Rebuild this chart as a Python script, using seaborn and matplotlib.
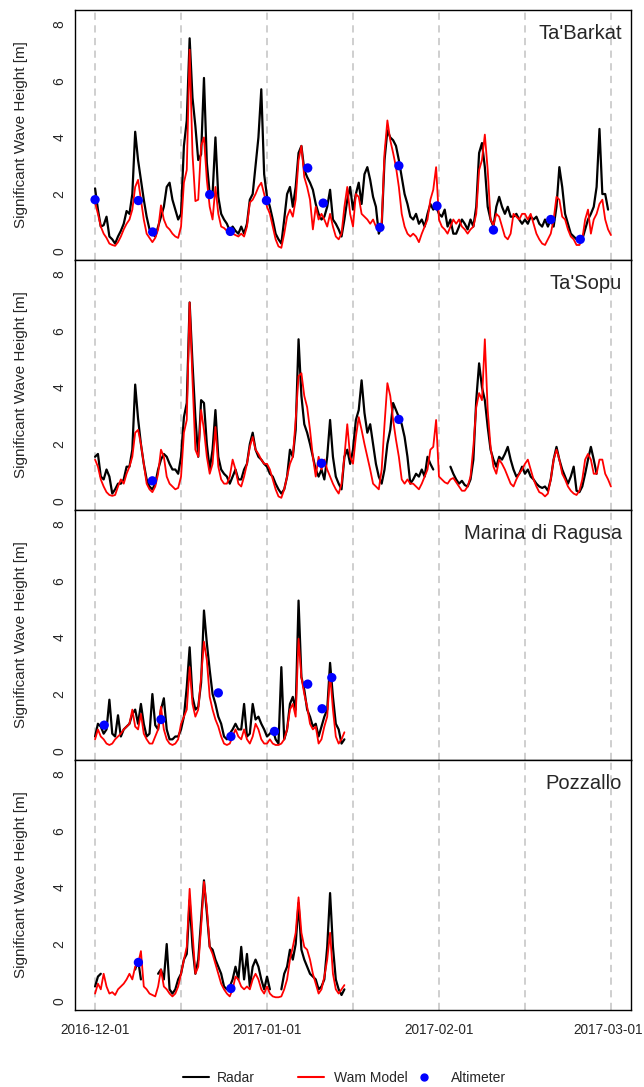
import numpy as np
import pandas as pd
import matplotlib
matplotlib.use("Agg")
import matplotlib.pyplot as plt
from matplotlib.lines import Line2D
import matplotlib.transforms as mtransforms
import seaborn as sns

# ---------------- data ----------------
START = pd.Timestamp("2016-12-01")
STEP_DAYS = 0.5  # 12-hourly samples

stations = ["Ta'Barkat", "Ta'Sopu", "Marina di Ragusa", "Pozzallo"]

nan = np.nan
radar_tabarkat = [
    2.2, 1.45, 0.85, 0.9, 1.2, 0.5, 0.4, 0.25, 0.5, 0.7,
    0.95, 1.4, 1.3, 2.0, 4.2, 3.2, 2.5, 1.8, 1.2, 0.75,
    0.6, 0.5, 0.85, 1.2, 1.55, 2.25, 2.4, 1.8, 1.45, 1.1,
    1.3, 3.7, 4.6, 7.5, 5.4, 4.4, 3.2, 3.4, 6.1, 3.1,
    2.0, 2.0, 4.0, 1.9, 1.3, 1.1, 0.95, 0.7, 0.85, 0.7,
    0.6, 0.85, 0.6, 0.95, 1.8, 2.0, 3.0, 4.0, 5.7, 2.7,
    1.9, 1.55, 1.1, 0.6, 0.4, 0.25, 1.1, 2.0, 2.25, 1.55,
    2.25, 3.45, 3.7, 2.85, 2.6, 2.4, 2.15, 1.65, 1.3, 1.1,
    1.2, 1.55, 2.15, 1.1, 0.95, 0.75, 0.5, 1.1, 1.8, 2.25,
    1.45, 2.0, 2.4, 1.65, 2.7, 2.95, 2.5, 1.9, 1.55, 0.6,
    0.85, 3.2, 4.25, 4.0, 3.9, 3.7, 3.2, 2.6, 2.0, 1.65,
    1.2, 1.1, 1.3, 0.95, 1.1, 0.85, 1.3, 1.65, 1.45, 1.55,
    1.3, 1.2, 1.45, 0.85, 1.1, 0.6, 0.6, 0.85, 1.1, 0.95,
    0.75, 1.1, 0.85, 1.55, 3.45, 3.8, 2.95, 1.55, 1.1, 0.85,
    1.55, 1.9, 1.55, 1.3, 1.55, 1.2, 1.2, 1.3, 1.1, 0.95,
    1.1, 0.95, 1.2, 1.1, 1.2, 0.95, 0.85, 1.1, 0.85, 1.1,
    0.85, 1.55, 2.95, 2.25, 1.3, 0.95, 0.6, 0.5, 0.4, 0.3,
    0.4, 0.75, 1.1, 1.3, 1.55, 2.25, 4.3, 2.0, 2.0, 1.45,
    nan,
]
wam_tabarkat = [
    1.7, 1.3, 0.85, 0.6, 0.45, 0.25, 0.2, 0.17, 0.3, 0.5,
    0.75, 0.95, 1.1, 1.45, 2.25, 2.5, 1.8, 1.1, 0.6, 0.45,
    0.3, 0.45, 0.75, 1.6, 1.1, 0.85, 0.75, 0.6, 0.5, 0.45,
    0.85, 2.4, 2.85, 7.1, 3.4, 1.75, 1.8, 3.7, 4.0, 2.5,
    1.55, 1.1, 2.25, 1.3, 0.85, 0.8, 0.7, 0.55, 0.6, 0.55,
    0.5, 0.6, 0.5, 0.85, 1.7, 1.8, 2.0, 2.25, 2.4, 2.0,
    1.55, 1.3, 0.85, 0.4, 0.15, 0.1, 0.6, 1.2, 1.45, 1.2,
    1.8, 3.2, 3.7, 2.6, 2.25, 1.8, 0.75, 1.55, 1.1, 1.3,
    1.1, 0.85, 1.3, 0.85, 0.5, 0.4, 0.6, 1.55, 2.25, 1.3,
    0.85, 2.0, 1.9, 1.3, 1.2, 1.1, 0.95, 1.1, 0.85, 0.75,
    0.95, 3.45, 4.6, 3.9, 3.45, 2.95, 2.25, 1.3, 0.85, 0.6,
    0.5, 0.6, 0.5, 0.3, 0.6, 0.85, 1.1, 1.8, 2.15, 2.95,
    1.1, 0.85, 0.75, 0.6, 0.85, 1.1, 0.95, 1.1, 0.85, 0.75,
    0.6, 0.75, 0.85, 1.3, 2.85, 3.2, 4.1, 2.85, 1.1, 0.9,
    1.3, 1.2, 0.85, 0.5, 0.4, 0.6, 1.3, 1.2, 1.1, 1.3,
    1.3, 1.1, 1.3, 0.95, 0.6, 0.4, 0.25, 0.2, 0.4, 0.6,
    1.1, 1.9, 1.8, 1.2, 1.1, 0.75, 0.5, 0.4, 0.2, 0.2,
    0.4, 1.1, 1.45, 0.6, 1.1, 1.3, 1.65, 1.8, 1.1, 0.75,
    0.55,
]
alt_days_tabarkat = [0.0, 7.55, 10.05, 20.0, 23.6, 29.9, 37.1, 39.8, 49.7, 53.0, 59.65, 69.5, 79.5, 84.65]
alt_hs_tabarkat = [1.8, 1.77, 0.66, 1.98, 0.68, 1.77, 2.92, 1.68, 0.82, 3.0, 1.58, 0.73, 1.1, 0.4]

radar_tasopu = [
    1.55, 1.65, 0.85, 0.75, 1.1, 0.85, 0.25, 0.4, 0.6, 0.6,
    0.75, 1.2, 1.2, 1.8, 4.1, 2.9, 2.0, 1.3, 0.75, 0.5,
    0.4, 0.6, 1.1, 1.45, 1.65, 1.55, 1.3, 1.1, 1.1, 0.95,
    1.55, 2.95, 3.45, 7.0, 4.85, 2.95, 1.55, 3.55, 3.45, 2.0,
    1.1, 1.8, 3.2, 1.55, 1.1, 0.95, 0.85, 0.6, 0.85, 1.1,
    0.75, 0.75, 1.1, 1.3, 2.0, 2.4, 1.8, 1.55, 1.45, 1.3,
    1.2, 0.95, 0.85, 0.6, 0.4, 0.25, 0.4, 0.85, 1.8, 1.55,
    2.5, 5.7, 3.7, 2.7, 2.4, 2.0, 1.55, 1.1, 0.85, 1.1,
    0.75, 1.55, 2.85, 1.55, 0.85, 0.6, 0.4, 1.55, 1.8, 1.3,
    1.8, 2.85, 3.2, 4.25, 3.1, 2.4, 2.7, 2.0, 1.3, 0.85,
    0.6, 1.1, 2.0, 2.5, 3.45, 3.2, 2.95, 2.7, 2.25, 1.55,
    0.6, 0.75, 0.95, 0.85, 1.1, 0.85, 1.55, 1.3, 1.1, nan,
    nan, nan, nan, nan, 1.2, 0.95, 0.75, 0.6, 0.7, 0.55,
    0.5, 0.75, 1.45, 3.55, 4.85, 4.0, 3.55, 2.6, 1.8, 1.45,
    1.2, 1.55, 1.45, 1.65, 1.9, 1.45, 1.1, 0.85, 0.95, 1.2,
    0.95, 1.1, 0.85, 0.75, 0.6, 0.5, 0.45, 0.5, 0.35, 0.75,
    1.45, 1.9, 1.45, 1.1, 0.85, 0.6, 0.85, 1.2, 0.35, 0.3,
    0.5, 0.95, 1.45, 1.9, 1.45, 0.95, nan, nan, nan, nan,
    nan,
]
wam_tasopu = [
    1.45, 1.2, 0.75, 0.5, 0.3, 0.2, 0.17, 0.2, 0.5, 0.75,
    0.6, 0.95, 1.2, 1.55, 2.4, 2.5, 2.0, 1.3, 0.6, 0.4,
    0.3, 0.5, 0.95, 1.8, 1.55, 0.85, 0.6, 0.5, 0.4, 0.45,
    0.85, 2.4, 2.85, 7.0, 4.25, 1.8, 1.55, 3.2, 2.5, 1.55,
    0.95, 1.3, 2.6, 1.2, 0.75, 0.6, 0.6, 0.85, 1.45, 1.1,
    0.6, 0.5, 0.85, 1.3, 1.9, 2.25, 1.8, 1.65, 1.45, 1.3,
    1.3, 1.1, 0.75, 0.4, 0.15, 0.1, 0.4, 0.85, 1.3, 1.55,
    2.85, 4.4, 4.5, 3.7, 3.3, 2.5, 1.55, 0.85, 1.55, 1.1,
    1.45, 1.1, 0.85, 0.6, 0.4, 0.25, 0.6, 1.55, 2.7, 1.55,
    1.3, 2.25, 2.95, 2.5, 2.0, 1.55, 1.1, 0.6, 0.5, 0.4,
    1.1, 2.7, 4.15, 3.7, 2.85, 2.15, 1.55, 0.75, 0.6, 0.75,
    0.6, 0.6, 0.5, 0.4, 0.6, 0.85, 1.1, 1.8, 1.9, 2.85,
    0.85, 0.75, 0.65, 0.6, 0.75, 0.8, 0.65, 0.5, 0.35, 0.35,
    0.5, 0.85, 1.9, 3.3, 3.8, 3.55, 5.7, 3.2, 1.9, 1.2,
    0.95, 1.45, 1.3, 1.1, 0.85, 0.6, 0.5, 0.75, 0.95, 1.1,
    1.3, 1.45, 1.1, 0.75, 0.5, 0.3, 0.25, 0.15, 0.25, 0.75,
    1.45, 1.8, 1.45, 0.95, 0.75, 0.5, 0.35, 0.25, 0.2, 0.35,
    0.75, 1.45, 1.65, 1.45, 0.95, 0.95, 1.45, 1.45, 0.95, 0.75,
    0.5,
]
alt_days_tasopu = [10.0, 39.5, 53.0]
alt_hs_tasopu = [0.7, 1.32, 2.87]

radar_ragusa = [
    0.5, 0.95, 0.85, 0.6, 0.75, 1.8, 0.6, 0.5, 1.25, 0.5,
    0.75, 0.85, 0.95, 1.3, 1.45, 0.95, 1.65, 0.95, 0.5, 0.6,
    2.0, 0.9, 0.75, 1.45, 1.85, 0.75, 0.4, 0.4, 0.5, 0.5,
    0.75, 1.2, 2.25, 3.65, 1.9, 1.45, 1.55, 2.4, 4.95, 3.8,
    2.85, 2.0, 1.65, 1.2, 0.95, 0.5, 0.4, 0.6, 0.75, 0.95,
    0.75, 0.75, 1.65, 0.5, 0.6, 1.65, 1.1, 1.2, 0.95, 0.75,
    0.5, 0.6, 0.75, 0.4, 0.25, 2.95, 0.4, 0.75, 1.65, 1.9,
    1.45, 5.3, 2.6, 2.15, 1.45, 1.2, 0.85, 0.95, 0.5, 0.85,
    1.2, 1.45, 3.1, 1.9, 0.95, 0.75, 0.25, 0.4,
]
wam_ragusa = [
    0.4, 0.75, 0.5, 0.4, 0.25, 0.2, 0.25, 0.4, 0.5, 0.6,
    0.75, 0.85, 0.95, 1.45, 0.85, 0.75, 1.3, 0.6, 0.4, 0.25,
    0.25, 0.5, 0.75, 1.55, 0.75, 0.4, 0.25, 0.2, 0.25, 0.4,
    0.95, 1.2, 1.45, 2.95, 1.65, 1.2, 1.45, 2.6, 3.85, 3.2,
    1.9, 1.45, 1.1, 0.85, 0.5, 0.25, 0.2, 0.25, 0.5, 0.75,
    0.5, 0.4, 0.75, 0.4, 0.25, 0.5, 0.95, 0.75, 0.4, 0.25,
    0.25, 0.4, 0.25, 0.2, 0.2, 0.25, 0.4, 0.75, 1.45, 1.65,
    1.2, 3.95, 2.6, 2.0, 1.55, 0.95, 0.75, 0.85, 0.25, 0.4,
    0.85, 1.2, 2.7, 1.45, 0.5, 0.25, 0.4, 0.65,
]
alt_days_ragusa = [1.6, 11.5, 21.5, 23.7, 31.3, 37.1, 39.6, 41.3]
alt_hs_ragusa = [0.9, 1.1, 2.04, 0.5, 0.68, 2.35, 1.48, 2.58]

radar_pozzallo = [
    0.5, 0.85, 0.95, nan, nan, nan, nan, nan, nan, nan,
    nan, nan, nan, nan, 1.1, 1.45, 0.75, nan, nan, nan,
    nan, nan, 0.95, 1.1, 0.75, 2.0, 0.4, 0.25, 0.4, 0.75,
    0.95, 1.45, 1.65, 3.55, 1.9, 0.95, 1.45, 2.85, 4.25, 3.1,
    1.9, 1.8, 1.45, 1.2, 0.95, 0.5, 0.4, 0.5, 0.75, 1.2,
    0.75, 1.9, 0.75, 1.65, 0.5, 1.2, 1.45, 1.2, 0.75, 0.4,
    0.85, 0.4, nan, nan, nan, 0.4, 0.95, 1.2, 1.8, 1.45,
    2.0, 3.45, 1.8, 1.45, 1.2, 0.95, 0.85, 0.75, 0.4, 0.5,
    0.75, 1.9, 3.8, 1.9, 0.75, 0.4, 0.2, 0.4,
]
wam_pozzallo = [
    0.25, 0.6, 0.4, 0.95, 0.5, 0.25, 0.3, 0.2, 0.4, 0.5,
    0.6, 0.75, 0.95, 0.75, 1.2, 1.3, 1.75, 0.5, 0.4, 0.25,
    0.2, 0.15, 0.5, 1.1, 0.5, 0.4, 0.25, 0.15, 0.25, 0.5,
    0.95, 1.45, 1.9, 3.95, 2.4, 0.95, 1.2, 2.6, 4.2, 3.3,
    1.9, 1.65, 1.3, 0.95, 0.6, 0.4, 0.25, 0.15, 0.4, 0.85,
    0.75, 0.5, 0.4, 0.5, 0.4, 0.75, 0.95, 0.75, 0.4, 0.25,
    0.5, 0.25, 0.15, 0.12, 0.12, 0.15, 0.4, 0.75, 1.45, 1.9,
    2.4, 3.65, 2.4, 1.9, 1.8, 1.45, 0.95, 0.6, 0.25, 0.4,
    0.85, 1.45, 2.4, 0.95, 0.4, 0.25, 0.4, 0.55,
]
alt_days_pozzallo = [7.56, 23.7]
alt_hs_pozzallo = [1.35, 0.43]

tick_days = [0, 15, 30, 45, 60, 75, 90]
tick_labels = ["2016-12-01", "", "2017-01-01", "", "2017-02-01", "", "2017-03-01"]
y_ticks = [0, 2, 4, 6, 8]
legend_labels = ["Radar", "Wam Model", "Altimeter"]

panels = [
    (radar_tabarkat, wam_tabarkat, alt_days_tabarkat, alt_hs_tabarkat),
    (radar_tasopu, wam_tasopu, alt_days_tasopu, alt_hs_tasopu),
    (radar_ragusa, wam_ragusa, alt_days_ragusa, alt_hs_ragusa),
    (radar_pozzallo, wam_pozzallo, alt_days_pozzallo, alt_hs_pozzallo),
]

# ---------------- style ----------------
sns.set_style("white")
plt.rcParams["font.family"] = ["Liberation Sans", "DejaVu Sans"]


def to_time(days):
    return START + pd.to_timedelta(np.asarray(days, dtype=float), unit="D")


def series_frame(values):
    v = np.asarray(values, dtype=float)
    days = np.arange(len(v)) * STEP_DAYS
    seg = np.cumsum(np.isnan(v))
    df = pd.DataFrame({"time": to_time(days), "hs": v, "seg": seg})
    return df.dropna()


W, H = 644, 1087
fig = plt.figure(figsize=(W / 100, H / 100), dpi=100)
left, right = 75 / W, 631 / W
tops = [10, 260, 510, 760]
ph = 250

xlim = (to_time([-3.5])[0], to_time([93.5])[0])
tick_times = to_time(tick_days)

for i, (name, (radar, wam, adays, ahs)) in enumerate(zip(stations, panels)):
    bottom = 1 - (tops[i] + ph) / H
    ax = fig.add_axes([left, bottom, right - left, ph / H])

    for t in tick_times:
        ax.axvline(t, color="#cccccc", lw=1.3, ls=(0, (4, 3)), zorder=0)

    rdf = series_frame(radar)
    wdf = series_frame(wam)
    sns.lineplot(data=rdf, x="time", y="hs", units="seg", estimator=None,
                 sort=False, color="black", lw=1.6, ax=ax, zorder=2)
    sns.lineplot(data=wdf, x="time", y="hs", units="seg", estimator=None,
                 sort=False, color="#ff0000", lw=1.3, ax=ax, zorder=3)
    adf = pd.DataFrame({"time": to_time(adays), "hs": ahs})
    sns.scatterplot(data=adf, x="time", y="hs", color="#0000ff", s=45,
                    edgecolor="none", ax=ax, zorder=4)

    ax.set_xlim(*xlim)
    ax.set_ylim(-0.33, 8.5)
    ax.set_yticks(y_ticks)
    ax.set_yticklabels([str(v) for v in y_ticks], rotation=90, va="center", fontsize=10)
    ax.tick_params(axis="y", direction="out", length=5, width=1, color="black", pad=1)
    ax.set_xticks(tick_times)
    if i == 3:
        ax.set_xticklabels(tick_labels, fontsize=9.8)
        ax.tick_params(axis="x", length=0, pad=9)
        last = ax.get_xticklabels()[-1]
        last.set_transform(last.get_transform() +
                           mtransforms.ScaledTranslation(-3 / 100, 0, fig.dpi_scale_trans))
    else:
        ax.set_xticklabels([])
        ax.tick_params(axis="x", length=0)
    ax.set_xlabel("")
    ax.set_ylabel("Significant Wave Height [m]", fontsize=11)
    ax.yaxis.set_label_coords(-0.085, 0.5)
    for sp in ax.spines.values():
        sp.set_visible(True)
        sp.set_color("black")
        sp.set_linewidth(1.0)
    ax.text(0.984, 0.905, name, transform=ax.transAxes, ha="right", va="center",
            fontsize=14.5)
    ax.grid(False)

# legend: three single-entry legends placed like the reference
handles = [
    Line2D([], [], color="black", lw=1.5),
    Line2D([], [], color="#ff0000", lw=1.5),
    Line2D([], [], color="#0000ff", lw=0, marker="o", markersize=5),
]
legend_x = [183, 298, 411]
legend_pad = [0.55, 0.7, 0.95]
ly = 1 - 1078 / H
for h, lab, xpx, pad in zip(handles, legend_labels, legend_x, legend_pad):
    leg = fig.legend([h], [lab], loc="center left", bbox_to_anchor=(xpx / W, ly),
                     frameon=False, fontsize=10, handlelength=1.9,
                     handletextpad=pad, borderpad=0, borderaxespad=0)

fig.savefig("out.png", dpi=100)
